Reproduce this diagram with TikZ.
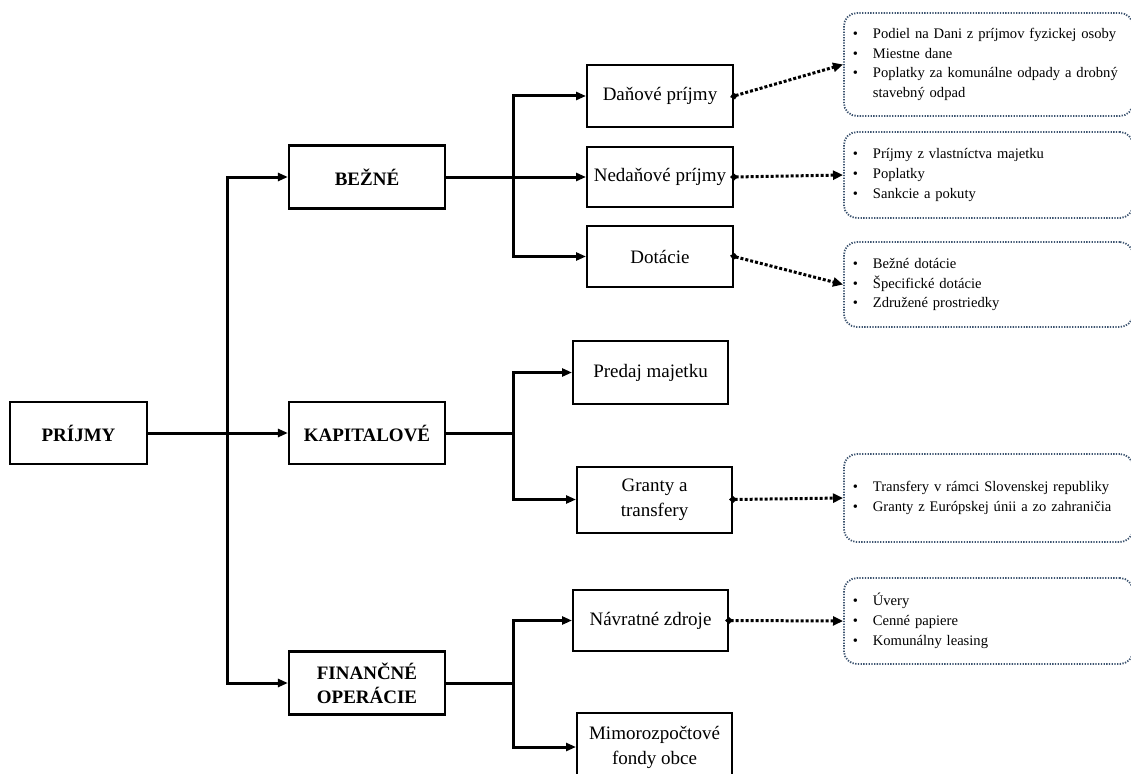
\documentclass[tikz,border=0pt]{standalone}
\usepackage{fontspec}
\setmainfont{Liberation Serif}
\usetikzlibrary{arrows.meta}
\definecolor{frame}{HTML}{3D5470}
% one bulleted line of a list, never broken
\newcommand{\bul}[1]{\mbox{\makebox[20pt][l]{\textbullet}#1}}
\begin{document}
\begin{tikzpicture}[x=1pt,y=-1pt,
  mainbox/.style={draw, line width=2.2pt, font=\fontsize{19}{24}\selectfont\bfseries,
    align=center, minimum width=156pt, minimum height=62pt, inner sep=0pt},
  leafbox/.style={draw, line width=2pt, font=\fontsize{19}{25}\selectfont,
    align=center, inner sep=0pt},
  listbox/.style={draw=frame, line width=1.8pt, dash pattern=on 1.3pt off 1.4pt,
    rounded corners=13pt, font=\fontsize{14.6}{19.8}\selectfont, align=left,
    text width=271pt, inner xsep=9pt, inner ysep=0pt, anchor=west},
  link/.style={line width=3pt},
  arr/.style={line width=3pt, -{Triangle[length=10pt,width=8pt]}},
  dots/.style={line width=3pt, dash pattern=on 3pt off 2pt, shorten <=-4pt,
    {Diamond[length=8pt,width=7pt]}-{Triangle[length=10pt,width=9pt]}},
]
\useasboundingbox (0,0) rectangle (1131,773);

% first level
\node[mainbox, minimum width=137pt] (prijmy) at (78.5,433) {PRÍJMY};
\node[mainbox, minimum height=63pt] (bezne) at (367,177) {BEŽNÉ};
\node[mainbox] (kap) at (367,433) {KAPITALOVÉ};
\node[mainbox, minimum height=63pt] (fin) at (367,683) {FINANČNÉ\\OPERÁCIE};

% second level
\node[leafbox, minimum width=146pt, minimum height=62pt] (dan) at (660,96) {Daňové príjmy};
\node[leafbox, minimum width=146pt, minimum height=60pt] (ned) at (660,177) {Nedaňové príjmy};
\node[leafbox, minimum width=146pt, minimum height=61pt] (dot) at (660,256.5) {Dotácie};
\node[leafbox, minimum width=155pt, minimum height=63pt] (predaj) at (650.5,372.5) {Predaj majetku};
\node[leafbox, minimum width=155pt, minimum height=66pt] (granty) at (654.5,499.5) {Granty a\\transfery};
\node[leafbox, minimum width=155pt, minimum height=61pt] (nav) at (650.5,620.5) {Návratné zdroje};
\node[leafbox, minimum width=155pt, minimum height=68pt] (mimo) at (654.5,747) {Mimorozpočtové\\fondy obce};

% detail lists
\node[listbox, minimum height=103pt] (l1) at (843,64.5) {%
  \bul{Podiel na Dani z príjmov fyzickej osoby}\\
  \bul{Miestne dane}\\
  \bul{Poplatky za komunálne odpady a drobný}\\
  \hspace*{20pt}stavebný odpad};
\node[listbox, minimum height=86pt] (l2) at (843,175) {%
  \bul{Príjmy z vlastníctva majetku}\\
  \bul{Poplatky}\\
  \bul{Sankcie a pokuty}};
\node[listbox, minimum height=85pt] (l3) at (843,284.5) {%
  \bul{Bežné dotácie}\\
  \bul{Špecifické dotácie}\\
  \bul{Združené prostriedky}};
\node[listbox, minimum height=88pt] (l4) at (843,498) {%
  \bul{Transfery v rámci Slovenskej republiky}\\
  \bul{Granty z Európskej únii a zo zahraničia}};
\node[listbox, minimum height=86pt] (l5) at (843,621) {%
  \bul{Úvery}\\
  \bul{Cenné papiere}\\
  \bul{Komunálny leasing}};

% branching points
\coordinate (t0) at (227,433);
\coordinate (t1) at (513,177);
\coordinate (t2) at (513,433);
\coordinate (t3) at (513,683);

% first-level connectors
\draw[arr] (prijmy.east) -- (kap.west);
\draw[arr] (t0) |- (bezne.west);
\draw[arr] (t0) |- (fin.west);

% second-level connectors
\draw[link] (bezne.east) -- (t1);
\draw[arr] (t1) |- (dan.west);
\draw[arr] (t1) -- (ned.west);
\draw[arr] (t1) |- (dot.west);
\draw[link] (kap.east) -- (t2);
\draw[arr] (t2) |- (predaj.west);
\draw[arr] (t2) |- (granty.west);
\draw[link] (fin.east) -- (t3);
\draw[arr] (t3) |- (nav.west);
\draw[arr] (t3) |- (mimo.west);

% dotted links to the lists
\draw[dots] (dan.east) -- (l1.west);
\draw[dots] (ned.east) -- (l2.west);
\draw[dots] (dot.east) -- (l3.west);
\draw[dots] (granty.east) -- (l4.west);
\draw[dots] (nav.east) -- (l5.west);
\end{tikzpicture}
\end{document}
